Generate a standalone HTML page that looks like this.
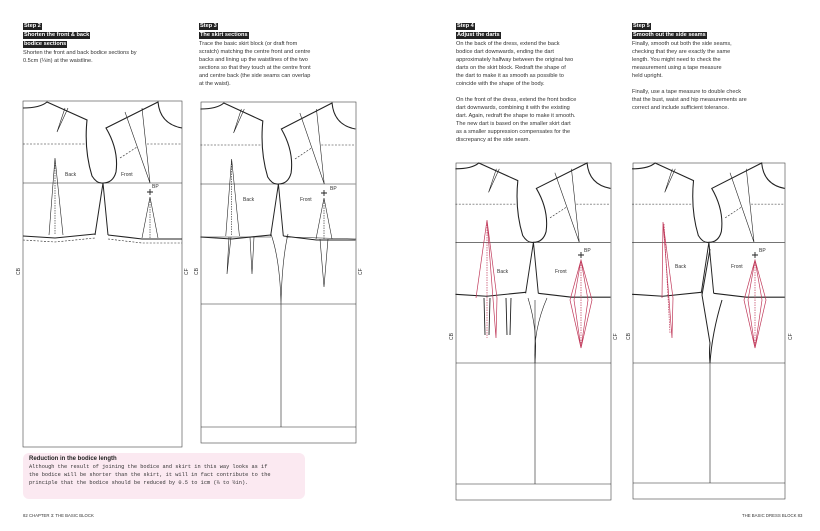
<!DOCTYPE html>
<html><head><meta charset="utf-8"><style>
body{margin:0;width:820px;height:531px;background:#fff;position:relative;overflow:hidden;font-family:"Liberation Sans",sans-serif;color:#333}
.t{position:absolute;font-size:5.6px;line-height:8px}
.h{background:#222;color:#fff;font-weight:bold;padding:0 1px;display:inline-block;line-height:7px;margin-bottom:1px}
.note{position:absolute;left:23px;top:453px;width:282px;height:46px;background:#fbe9f1;border-radius:6px}
.mono{font-family:"Liberation Mono",monospace;font-size:5.3px;line-height:8px;color:#333}
svg{position:absolute;left:0;top:0}
</style></head><body>
<div class="t" style="left:23px;top:22px"><span class="h">Step 2</span><br><span class="h">Shorten the front &amp; back</span><br><span class="h">bodice sections</span><br>Shorten the front and back bodice sections by<br>0.5cm (¼in) at the waistline.</div>
<div class="t" style="left:199px;top:22px"><span class="h">Step 3</span><br><span class="h">The skirt sections</span><br>Trace the basic skirt block (or draft from<br>scratch) matching the centre front and centre<br>backs and lining up the waistlines of the two<br>sections so that they touch at the centre front<br>and centre back (the side seams can overlap<br>at the waist).</div>
<div class="t" style="left:456px;top:22px"><span class="h">Step 4</span><br><span class="h">Adjust the darts</span><br>On the back of the dress, extend the back<br>bodice dart downwards, ending the dart<br>approximately halfway between the original two<br>darts on the skirt block. Redraft the shape of<br>the dart to make it as smooth as possible to<br>coincide with the shape of the body.<br><br>On the front of the dress, extend the front bodice<br>dart downwards, combining it with the existing<br>dart. Again, redraft the shape to make it smooth.<br>The new dart is based on the smaller skirt dart<br>as a smaller suppression compensates for the<br>discrepancy at the side seam.</div>
<div class="t" style="left:632px;top:22px"><span class="h">Step 5</span><br><span class="h">Smooth out the side seams</span><br>Finally, smooth out both the side seams,<br>checking that they are exactly the same<br>length. You might need to check the<br>measurement using a tape measure<br>held upright.<br><br>Finally, use a tape measure to double check<br>that the bust, waist and hip measurements are<br>correct and include sufficient tolerance.</div>
<div class="note"><div style="position:absolute;left:6px;top:3px;font-size:6px;font-weight:bold;color:#222">Reduction in the bodice length</div>
<div class="mono" style="position:absolute;left:6px;top:10px">Although the result of joining the bodice and skirt in this way looks as if<br>the bodice will be shorter than the skirt, it will in fact contribute to the<br>principle that the bodice should be reduced by 0.5 to 1cm (¼ to ½in).</div></div>
<div class="t" style="left:23px;top:512px;font-size:4.3px">82 CHAPTER 3: THE BASIC BLOCK</div>
<div class="t" style="left:742px;top:512px;font-size:4.3px">THE BASIC DRESS BLOCK 83</div>
<svg width="820" height="531" viewBox="0 0 820 531" fill="none" stroke="#222" stroke-width="0.6" font-family="Liberation Sans" font-size="5">
<defs>
<g id="bod">
<path d="M23 108 Q40 108 47 102 L87 120 Q84 150 92 176 Q97 184 103 183 Q113 183 116 172 Q119 150 106 128 L158 102 Q160 124 182 128" stroke-width="1.1"/>
<path d="M65 108 L57 132 L68 108"/>
<path d="M23 144 H86 M147 144 H182 M120 158 L137 147" stroke-dasharray="2 1.5"/>
<path d="M125 112 L150 183 L142 108"/>
<path d="M23 183 H182"/>
<path d="M103 183 L95 235 M103 183 L108 235" stroke-width="1"/>
<path d="M23 236 L55 238 L95 234 M108 235 L142 239 L182 239" stroke-width="1.1"/>
</g>
<g id="bdart1"><path d="M55 158 L49 235 M55 158 L63 235"/><path d="M55 160 V235" stroke-dasharray="1.5 1"/></g>
<g id="fdart1"><path d="M150 197 L142 238 M150 197 L158 238"/><path d="M150 199 V238" stroke-dasharray="1.5 1"/><path d="M147 192 H153 M150 189 V195" stroke-width="0.9"/></g>
</defs>
<!-- panel 1 -->
<rect x="23" y="101" width="159" height="346" stroke="#444"/>
<use href="#bod"/><use href="#bdart1"/><use href="#fdart1"/>
<path d="M23 240 L55 242 L95 238 M108 239 L142 243 L182 243" stroke-dasharray="2 1.5"/>
<text x="65" y="176" fill="#333" stroke="none">Back</text><text x="121" y="176" fill="#333" stroke="none">Front</text><text x="152" y="188" fill="#333" stroke="none">BP</text>
<text transform="translate(20 275) rotate(-90)" fill="#333" stroke="none">CB</text><text transform="translate(188 275) rotate(-90)" fill="#333" stroke="none">CF</text>
<!-- panel 2 -->
<rect x="201" y="102" width="155" height="341" stroke="#444"/>
<g transform="translate(178 1) scale(0.975 1)" ><use href="#bod"/><use href="#bdart1"/></g>
<g transform="translate(174 1)"><use href="#fdart1"/></g>
<path d="M201 237 H271 M286 237 L356 239"/>
<path d="M229 237 L227 274 L231 237 M250 237 L252 274 L254 237 M320 239 L324 287 L328 239"/>
<path d="M271 234 Q280 260 281 304 Q282 260 288 234"/>
<path d="M201 304 H356 M281 304 V427 M201 427 H356"/>
<text x="243" y="201" fill="#333" stroke="none">Back</text><text x="300" y="201" fill="#333" stroke="none">Front</text><text x="330" y="190" fill="#333" stroke="none">BP</text>
<text transform="translate(198 275) rotate(-90)" fill="#333" stroke="none">CB</text><text transform="translate(362 275) rotate(-90)" fill="#333" stroke="none">CF</text>
<!-- panel 4 -->
<rect x="456" y="163" width="155" height="337" stroke="#444"/>
<g transform="translate(433 63) scale(0.975 0.98)"><use href="#bod"/></g>
<path d="M578 255 H584 M581 252 V258" stroke-width="0.9"/>
<path d="M456 363 H611 M535 300 V484 M456 484 H611"/>
<path d="M528 298 Q538 330 535 363 Q533 330 547 298"/>
<path d="M484 298 L485 335 M490 298 L489 335 M506 298 L507 335 M511 298 L510 335" stroke-width="0.9"/>
<g stroke="#c0395a" stroke-width="0.7"><path d="M487 220 L497 298 L496 338 L487 220 L476 298 Z"/><path d="M487 222 V338" stroke-dasharray="1.5 1"/>
<path d="M581 260 L588 300 L581 348 L574 300 Z M581 260 L592 300 L581 348 L570 300 Z"/><path d="M581 262 V348" stroke-dasharray="1.5 1"/></g>
<text x="497" y="273" fill="#333" stroke="none">Back</text><text x="555" y="273" fill="#333" stroke="none">Front</text><text x="584" y="252" fill="#333" stroke="none">BP</text>
<text transform="translate(453 340) rotate(-90)" fill="#333" stroke="none">CB</text><text transform="translate(617 340) rotate(-90)" fill="#333" stroke="none">CF</text>
<!-- panel 5 -->
<rect x="633" y="163" width="152" height="336" stroke="#444"/>
<g transform="translate(610 63) scale(0.96 0.98)"><use href="#bod"/></g>
<path d="M752 255 H758 M755 252 V258" stroke-width="0.9"/>
<path d="M633 363 H785 M710 363 V483 M633 483 H785"/>
<path d="M710 249 L702 295 L710 343 Q709 353 710 363 Q712 333 722 300" stroke-width="1"/>
<g stroke="#c0395a" stroke-width="0.7"><path d="M663 222 L673 298 L672 338 L663 222 L662 298 Z"/><path d="M664 224 L670 333" stroke-dasharray="1.5 1"/>
<path d="M755 260 L762 300 L755 348 L748 300 Z M755 260 L766 300 L755 348 L744 300 Z"/><path d="M755 262 V348" stroke-dasharray="1.5 1"/></g>
<text x="675" y="268" fill="#333" stroke="none">Back</text><text x="731" y="268" fill="#333" stroke="none">Front</text><text x="759" y="252" fill="#333" stroke="none">BP</text>
<text transform="translate(630 340) rotate(-90)" fill="#333" stroke="none">CB</text><text transform="translate(792 340) rotate(-90)" fill="#333" stroke="none">CF</text>
</svg>
</body></html>
